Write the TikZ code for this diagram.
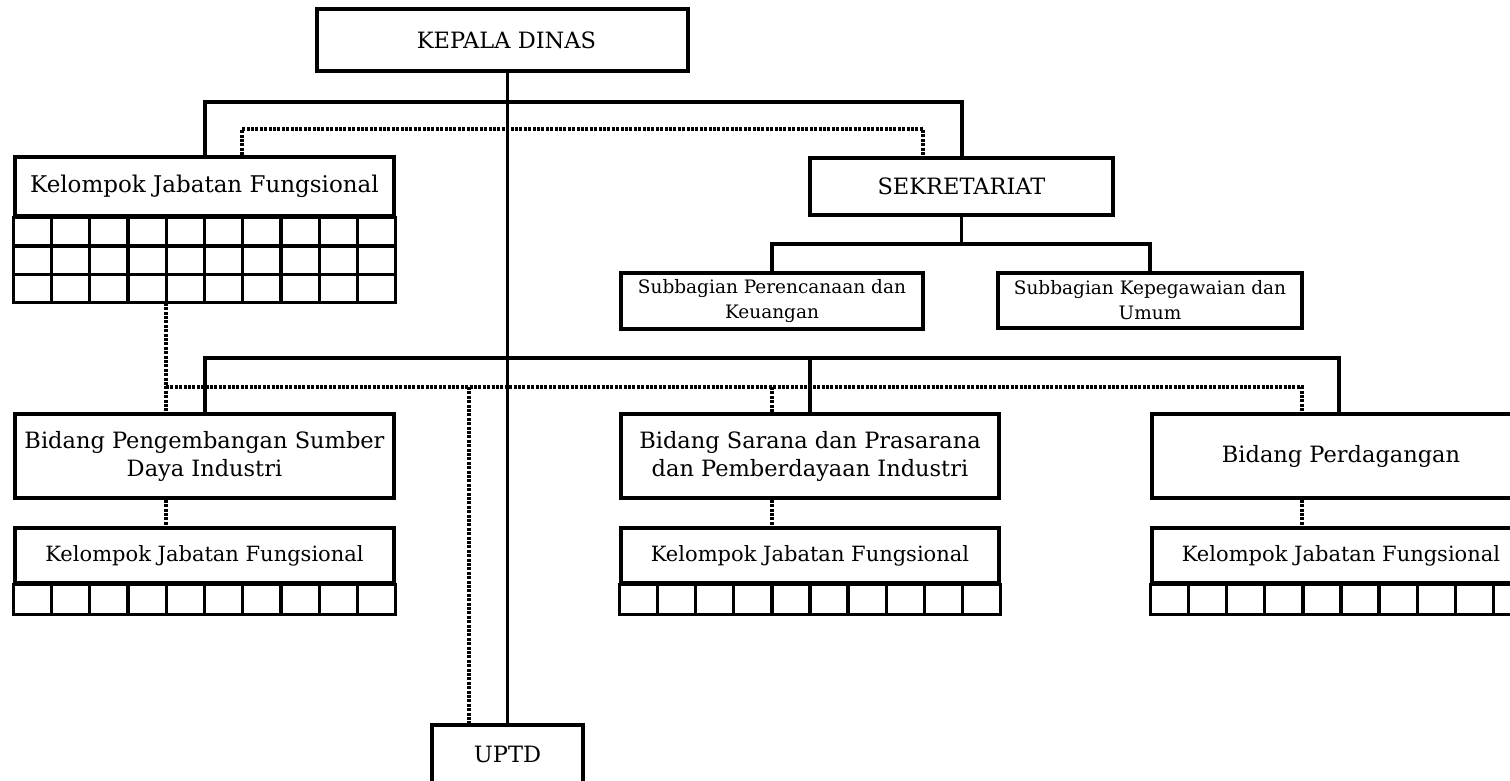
\documentclass[tikz,border=0pt]{standalone}
\usepackage{fontspec}
\setmainfont{DejaVu Serif}
\usetikzlibrary{calc}
\begin{document}
\begin{tikzpicture}[x=1pt,y=-1pt,line width=3.4pt,
  box/.style={draw,inner sep=0pt,align=center},
  dotl/.style={line width=3.4pt,dash pattern=on 3pt off 1.4pt},
  fbig/.style={font=\fontsize{22.5}{28}\selectfont},
  ftop/.style={font=\fontsize{23}{28}\selectfont},
  fmid/.style={font=\fontsize{21}{26}\selectfont},
  fsmall/.style={font=\fontsize{18.5}{25}\selectfont}]
\useasboundingbox (0,0) rectangle (1510,781);
\clip (0,0) rectangle (1510,781);
\fill[white] (0,0) rectangle (1510,781);

% nodes
\node[box,fbig,minimum width=371pt,minimum height=62pt] (kd) at (502.5,40) {\hspace*{8pt}KEPALA DINAS};
\node[box,ftop,minimum width=379pt,minimum height=59pt] (kjf0) at (204.5,186.5) {Kelompok Jabatan Fungsional};
\node[box,fbig,minimum width=303pt,minimum height=57pt] (sek) at (961.5,186.5) {SEKRETARIAT};
\node[box,fsmall,minimum width=302pt,minimum height=56pt] (sub1) at (772,301) {Subbagian Perencanaan dan\\Keuangan};
\node[box,fsmall,minimum width=304pt,minimum height=55pt] (sub2) at (1150,300.5) {Subbagian Kepegawaian dan\\Umum};
\node[box,fbig,minimum width=379pt,minimum height=84pt] (b1) at (204.5,456) {Bidang Pengembangan Sumber\\Daya Industri};
\node[box,fbig,minimum width=378pt,minimum height=84pt] (b2) at (810,456) {Bidang Sarana dan Prasarana\\dan Pemberdayaan Industri};
\node[box,fbig,minimum width=378pt,minimum height=84pt] (b3) at (1341,456) {Bidang Perdagangan};
\node[box,fmid,minimum width=379pt,minimum height=55pt] (k1) at (204.5,555.5) {Kelompok Jabatan Fungsional};
\node[box,fmid,minimum width=378pt,minimum height=55pt] (k2) at (810,555.5) {Kelompok Jabatan Fungsional};
\node[box,fmid,minimum width=378pt,minimum height=55pt] (k3) at (1341,555.5) {Kelompok Jabatan Fungsional};
\node[box,fbig,minimum width=151pt,minimum height=58pt] (uptd) at (507.5,754) {UPTD};

% grids
\draw (kjf0.south west) rectangle ($(kjf0.south east)+(0,85)$);
\draw ($(kjf0.south west)+(0,28.3)$) -- ($(kjf0.south east)+(0,28.3)$);
\draw ($(kjf0.south west)+(0,56.6)$) -- ($(kjf0.south east)+(0,56.6)$);
\foreach \i in {1,...,9}
  \draw ($(kjf0.south west)!\i/10!(kjf0.south east)$) -- ++(0,85);
\foreach \n in {k1,k2,k3}{
  \draw (\n.south west) rectangle ($(\n.south east)+(0,30)$);
  \foreach \i in {1,...,9}
    \draw ($(\n.south west)!\i/10!(\n.south east)$) -- ++(0,30);
}

% coordinates
\coordinate (ta) at (205,102);
\coordinate (tb) at (962,102);
\coordinate (da) at (242,129);
\coordinate (db) at (923,129);
\coordinate (sh) at (0,244);
\coordinate (bh) at (0,358);
\coordinate (dh) at (0,387);
\coordinate (dx1) at (166,0);
\coordinate (dx2) at (469,0);
\coordinate (dx3) at (772,0);
\coordinate (dx4) at (1302,0);
\coordinate (bx3) at (1339,0);

% solid connectors
\draw (kd.south -| uptd.north) -- (uptd.north);
\draw (kjf0.north -| ta) -- (ta) -- (tb) -- (sek.north -| tb);
\draw (sek.south) -- (sek.south |- sh);
\draw (sub1.north) -- (sub1.north |- sh) -- (sub2.north |- sh) -- (sub2.north);
\draw (b1.north -| ta) -- (bh -| ta) -- (bh -| bx3) -- (b3.north -| bx3);
\draw (b2.north) -- (b2.north |- bh);

% dotted connectors
\draw[dotl] (kjf0.north -| da) -- (da) -- (db) -- (sek.north -| db);
\draw[dotl] ($(kjf0.south -| dx1)+(0,85)$) -- (b1.north -| dx1);
\draw[dotl] (dh -| dx1) -- (dh -| dx4) -- (b3.north -| dx4);
\draw[dotl] (dh -| dx2) -- (uptd.north -| dx2);
\draw[dotl] (dh -| dx3) -- (b2.north -| dx3);
\draw[dotl] (b1.south -| dx1) -- (k1.north -| dx1);
\draw[dotl] (b2.south -| dx3) -- (k2.north -| dx3);
\draw[dotl] (b3.south -| dx4) -- (k3.north -| dx4);
\end{tikzpicture}
\end{document}
